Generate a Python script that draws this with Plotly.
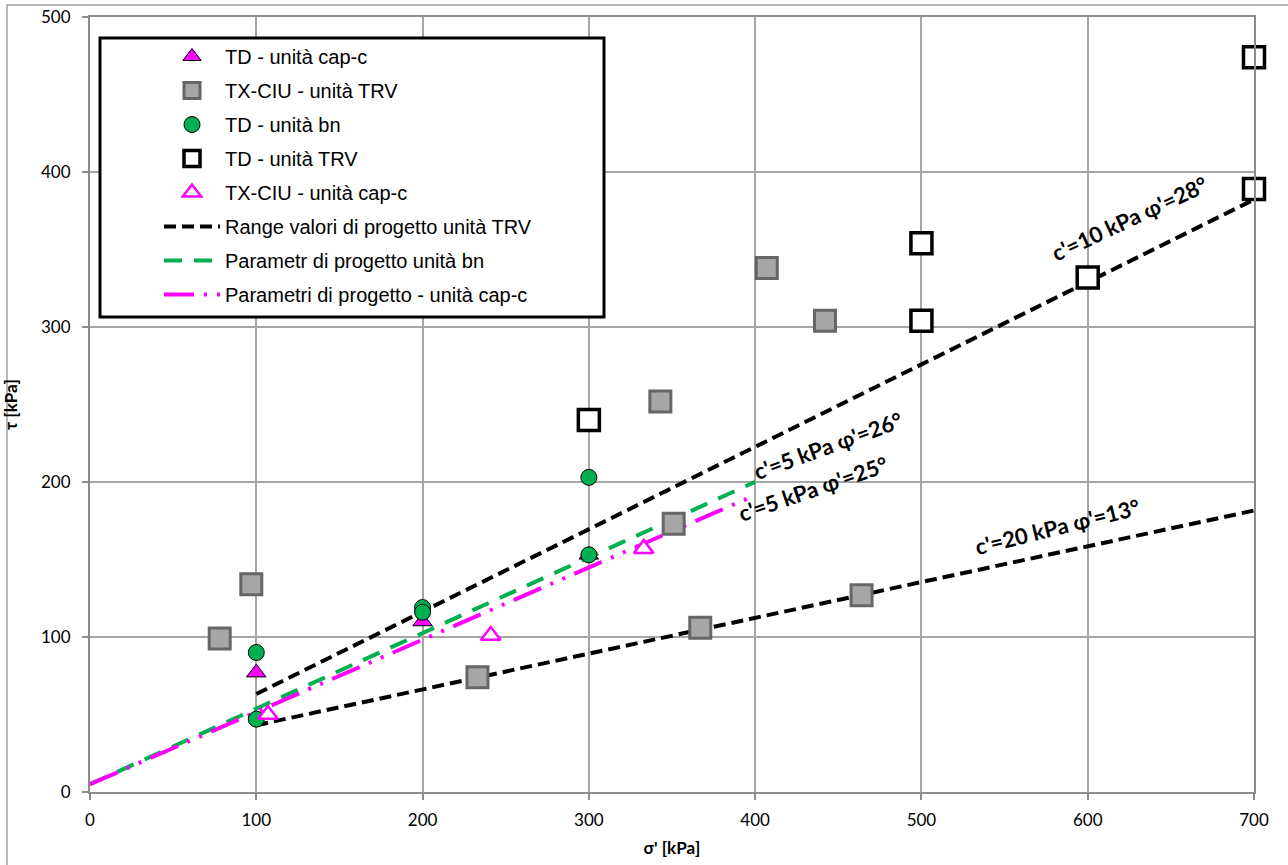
import plotly.graph_objects as go

# ---------------- data ----------------
# TD - unità cap-c
td_capc_x = [100, 200, 300]
td_capc_y = [77, 110, 153]
# TX-CIU - unità TRV
txciu_trv_x = [78, 97, 233, 343, 351, 367, 407, 442, 464]
txciu_trv_y = [99, 134, 74, 252, 173, 106, 338, 304, 127]
# TD - unità bn
td_bn_x = [100, 100, 200, 200, 300, 300]
td_bn_y = [90, 47, 119, 116, 203, 153]
# TD - unità TRV
td_trv_x = [300, 500, 500, 600, 700, 700]
td_trv_y = [240, 354, 304, 332, 389, 474]
# TX-CIU - unità cap-c
txciu_capc_x = [107, 241, 333]
txciu_capc_y = [50, 101, 157]
# Range valori di progetto unità TRV (two envelopes)
trv_range_x = [100, 700, None, 100, 700]
trv_range_y = [63.2, 382.2, None, 43.1, 181.6]
# Parametr di progetto unità bn
bn_x = [0, 400]
bn_y = [5, 200.1]
# Parametri di progetto - unità cap-c
capc_x = [0, 400]
capc_y = [5, 191.5]

# annotation labels
ann_text = ["c'=10 kPa φ'=28°", "c'=5 kPa φ'=26°", "c'=5 kPa φ'=25°", "c'=20 kPa φ'=13°"]
ann_x = [625, 444, 435, 582]
ann_y = [370, 223.5, 195.5, 171]
ann_angle = [-25, -20, -19, -14]

x_ticks = [0, 100, 200, 300, 400, 500, 600, 700]
y_ticks = [0, 100, 200, 300, 400, 500]

MAGENTA = "#ff00ff"
GREEN = "#00b050"
GRID = "#a6a6a6"

fig = go.Figure()

# lines (drawn first)
fig.add_trace(go.Scatter(
    x=trv_range_x, y=trv_range_y, mode="lines", name="Range valori di progetto unità TRV",
    line=dict(color="black", width=4, dash="12px,6px"), legendgroup="g6", legendrank=6,
    connectgaps=False))
fig.add_trace(go.Scatter(
    x=bn_x, y=bn_y, mode="lines", name="Parametr di progetto unità bn",
    line=dict(color=GREEN, width=4, dash="18px,12px"), legendgroup="g7", legendrank=7))
fig.add_trace(go.Scatter(
    x=capc_x, y=capc_y, mode="lines", name="Parametri di progetto - unità cap-c",
    line=dict(color=MAGENTA, width=4, dash="30px,10px,3px,10px,3px,10px"),
    legendgroup="g8", legendrank=8))

# markers
fig.add_trace(go.Scatter(
    x=td_capc_x, y=td_capc_y, mode="markers", name="TD - unità cap-c",
    marker=dict(symbol="triangle-up", size=17, color=MAGENTA, line=dict(color="black", width=1)),
    legendgroup="g1", legendrank=1, cliponaxis=False))
fig.add_trace(go.Scatter(
    x=txciu_trv_x, y=txciu_trv_y, mode="markers", name="TX-CIU - unità TRV",
    marker=dict(symbol="square", size=21, color="#a6a6a6", line=dict(color="#666666", width=3)),
    legendgroup="g2", legendrank=2, cliponaxis=False))
fig.add_trace(go.Scatter(
    x=td_bn_x, y=td_bn_y, mode="markers", name="TD - unità bn",
    marker=dict(symbol="circle", size=16, color=GREEN, line=dict(color="black", width=1)),
    legendgroup="g3", legendrank=3, cliponaxis=False))
fig.add_trace(go.Scatter(
    x=td_trv_x, y=td_trv_y, mode="markers", name="TD - unità TRV",
    marker=dict(symbol="square", size=21, color="white", line=dict(color="black", width=3.5)),
    legendgroup="g4", legendrank=4, cliponaxis=False))
fig.add_trace(go.Scatter(
    x=txciu_capc_x, y=txciu_capc_y, mode="markers", name="TX-CIU - unità cap-c",
    marker=dict(symbol="triangle-up", size=17, color="white", line=dict(color=MAGENTA, width=2.5)),
    legendgroup="g5", legendrank=5, cliponaxis=False))

for t, x, y, a in zip(ann_text, ann_x, ann_y, ann_angle):
    fig.add_annotation(x=x, y=y, text=t, textangle=a, showarrow=False,
                       font=dict(family="Lato", size=22, color="black", weight="bold"),
                       xanchor="center", yanchor="middle")

# page body margin is removed by the post script, so pixels map 1:1 to the screenshot
W, H = 1288, 865
PLOT_L, PLOT_R, PLOT_T, PLOT_B = 90, 1254, 17, 792   # screenshot px
ML, MT, MR, MB = PLOT_L, PLOT_T, W - PLOT_R, H - PLOT_B
PW, PH = PLOT_R - PLOT_L, PLOT_B - PLOT_T


def px2paper_x(px):
    return (px - PLOT_L) / PW


def px2paper_y(py):
    return (PLOT_B - py) / PH


shapes = [
    # outer chart border
    dict(type="rect", xref="paper", yref="paper",
         x0=px2paper_x(7), x1=px2paper_x(1320), y0=px2paper_y(5), y1=px2paper_y(900),
         line=dict(color="#a0a0a0", width=1.5), fillcolor="rgba(0,0,0,0)", layer="below"),
    # legend box
    dict(type="rect", xref="paper", yref="paper",
         x0=px2paper_x(100), x1=px2paper_x(604), y0=px2paper_y(317), y1=px2paper_y(38),
         line=dict(color="black", width=3), fillcolor="white", layer="above"),
]

axis_common = dict(
    showgrid=True, gridcolor=GRID, gridwidth=1.5,
    showline=True, linecolor="#8c8c8c", linewidth=2, mirror=True,
    ticks="outside", ticklen=6, tickcolor="#8c8c8c", tickwidth=1.5,
    zeroline=False, automargin=False, ticklabeloverflow="allow",
    tickfont=dict(family="Lato", size=17, color="black"),
)

fig.update_layout(
    width=W, height=H,
    margin=dict(l=ML, r=MR, t=MT, b=MB, autoexpand=False),
    paper_bgcolor="white", plot_bgcolor="white",
    shapes=shapes,
    xaxis=dict(range=[0, 700], tickvals=x_ticks, ticklabelstandoff=6, **axis_common,
               title=dict(text="σ' [kPa]", standoff=13,
                          font=dict(family="Lato", size=17, color="black", weight="bold"))),
    yaxis=dict(range=[0, 500], tickvals=y_ticks, ticklabelstandoff=8, **axis_common,
               title=dict(text="τ [kPa]", standoff=20,
                          font=dict(family="Lato", size=17, color="black", weight="bold"))),
    legend=dict(
        x=px2paper_x(159), y=px2paper_y(37), xanchor="left", yanchor="top",
        bgcolor="rgba(0,0,0,0)", borderwidth=0,
        font=dict(family="Liberation Sans", size=20, color="black"),
        traceorder="grouped", tracegroupgap=5, itemwidth=56,
    ),
    showlegend=True,
)

fig.write_html("out.html",
               config={"displayModeBar": False},
               post_script="document.body.style.margin='0px';document.body.style.overflow='hidden';")
